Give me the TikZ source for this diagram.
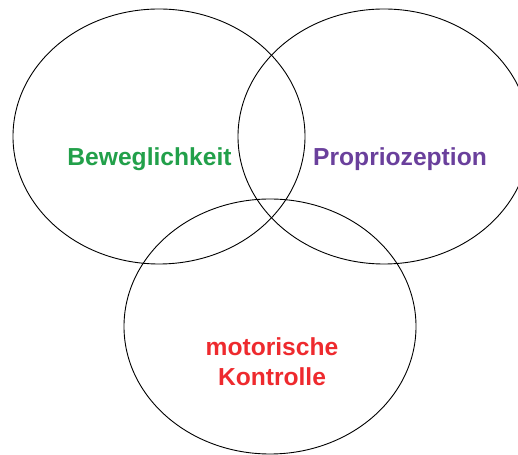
\documentclass[tikz,border=0pt]{standalone}
\usepackage{fontspec}
\setmainfont{Liberation Sans}
\definecolor{bgreen}{HTML}{22A04A}
\definecolor{ppurple}{HTML}{6A409C}
\definecolor{mred}{HTML}{EE2A2E}

\begin{document}
\begin{tikzpicture}[x=1bp, y=1bp,
        venntext/.style={font=\bfseries\fontsize{24.7}{30}\selectfont, inner sep=0pt, align=center},
        ring/.style={draw, line width=0.9bp}]
            \useasboundingbox (0,0) rectangle (518,455);

            \draw[ring] (159,318.5) ellipse [x radius=146, y radius=127.5];
            \draw[ring] (384,318.5) ellipse [x radius=146, y radius=127.5];
            \draw[ring] (270,128.5) ellipse [x radius=146, y radius=127.5];

            \node[venntext, text=bgreen, anchor=base] (beweg) at (149.5,289) {Beweglichkeit};
            \node[venntext, text=ppurple, anchor=base] (proprio) at (400,289) {Propriozeption};
            \node[venntext, text=mred] (motor) at (272,93) {motorische\\Kontrolle};
        \end{tikzpicture}
\end{document}
